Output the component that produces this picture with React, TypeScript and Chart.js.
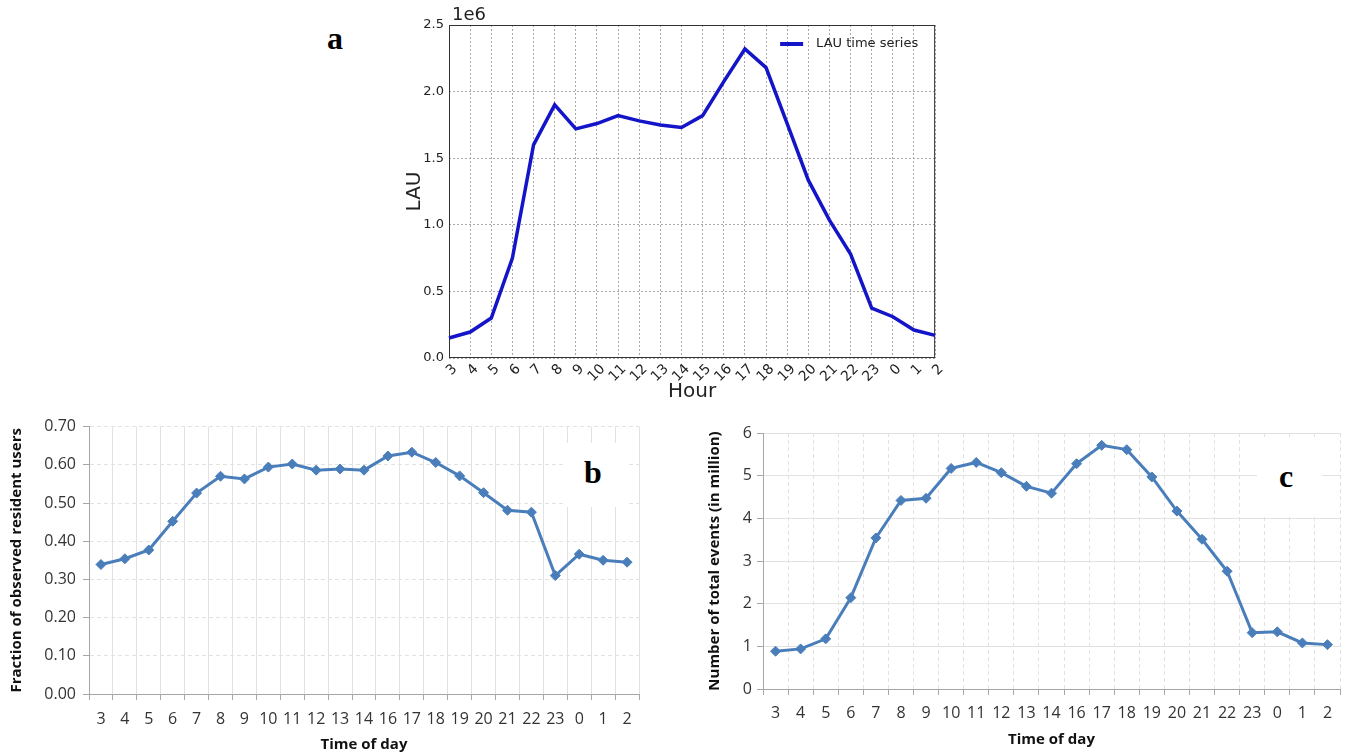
import React, { useEffect, useRef } from 'react';
import { Chart, registerables } from 'chart.js';

Chart.register(...registerables);

// ---------- data ----------
const hoursA = ['3', '4', '5', '6', '7', '8', '9', '10', '11', '12', '13', '14', '15', '16', '17', '18', '19', '20', '21', '22', '23', '0', '1', '2'];
const lauValues = [150000, 195000, 300000, 750000, 1600000, 1900000, 1720000, 1760000, 1820000, 1780000, 1750000, 1730000, 1820000, 2075000, 2320000, 2180000, 1760000, 1335000, 1035000, 780000, 375000, 310000, 210000, 170000];

const hoursBC = ['3', '4', '5', '6', '7', '8', '9', '10', '11', '12', '13', '14', '16', '17', '18', '19', '20', '21', '22', '23', '0', '1', '2'];
const residentFraction = [0.339, 0.354, 0.377, 0.452, 0.526, 0.570, 0.563, 0.594, 0.602, 0.586, 0.589, 0.586, 0.623, 0.633, 0.606, 0.571, 0.527, 0.481, 0.476, 0.310, 0.366, 0.350, 0.345];
const totalEvents = [0.885, 0.94, 1.175, 2.14, 3.54, 4.42, 4.47, 5.17, 5.31, 5.07, 4.75, 4.59, 5.28, 5.71, 5.61, 4.97, 4.17, 3.51, 2.76, 1.32, 1.34, 1.08, 1.04];

const MPL_FONT = 'DejaVu Sans';
const XL_FONT = 'Open Sans';
const XL_BLUE = '#4A7EBB';
const LAU_BLUE = '#1414c8';

const framePlugin = {
  id: 'frame',
  beforeDatasetsDraw(chart: any) {
    const { ctx, chartArea } = chart;
    ctx.save();
    ctx.strokeStyle = '#333';
    ctx.lineWidth = 1;
    ctx.strokeRect(chartArea.left + 0.5, chartArea.top + 0.5, chartArea.right - chartArea.left - 1, chartArea.bottom - chartArea.top - 1);
    ctx.restore();
  },
};

// legend drawn inside the plot, top-right (matplotlib style)
const insideLegendPlugin = {
  id: 'insideLegend',
  afterDatasetsDraw(chart: any) {
    const { ctx, chartArea } = chart;
    const ds = chart.data.datasets[0];
    const x0 = chartArea.right - 155;
    const y = chartArea.top + 19;
    ctx.save();
    ctx.strokeStyle = ds.borderColor;
    ctx.lineWidth = 4;
    ctx.beginPath();
    ctx.moveTo(x0, y);
    ctx.lineTo(x0 + 23, y);
    ctx.stroke();
    ctx.fillStyle = '#222';
    ctx.font = `13px "${MPL_FONT}"`;
    ctx.textBaseline = 'middle';
    ctx.textAlign = 'left';
    ctx.fillText(ds.label, x0 + 36, y);
    ctx.restore();
  },
};

function makeConfigA(): any {
  return {
    type: 'line',
    data: {
      labels: hoursA,
      datasets: [
        {
          label: 'LAU time series',
          data: lauValues,
          borderColor: LAU_BLUE,
          backgroundColor: LAU_BLUE,
          borderWidth: 3.5,
          pointRadius: 0,
          tension: 0,
        },
      ],
    },
    options: {
      animation: false,
      responsive: false,
      layout: { padding: { top: 25, right: 13, left: 0, bottom: 0 } },
      plugins: {
        tooltip: { enabled: false },
        legend: { display: false },
      },
      scales: {
        x: {
          type: 'category',
          offset: false,
          grid: { color: '#a8a8a8', drawTicks: false, offset: false },
          border: { display: false, dash: [2, 2] },
          ticks: {
            autoSkip: false,
            minRotation: 45,
            maxRotation: 45,
            padding: 3,
            labelOffset: 6,
            color: '#222',
            font: { family: MPL_FONT, size: 14 },
          },
          title: {
            display: true,
            text: 'Hour',
            color: '#222',
            font: { family: MPL_FONT, size: 20 },
            padding: { top: 0, bottom: 6 },
          },
          afterFit(scale: any) {
            scale.height = 52;
          },
        },
        y: {
          min: 0,
          max: 2500000,
          grid: { color: '#a8a8a8', drawTicks: false },
          border: { display: false, dash: [2, 2] },
          ticks: {
            stepSize: 500000,
            padding: 5,
            color: '#222',
            font: { family: MPL_FONT, size: 13 },
            callback: (v: any) => (Number(v) / 1e6).toFixed(1),
          },
          title: {
            display: true,
            text: 'LAU',
            color: '#222',
            font: { family: MPL_FONT, size: 20 },
            padding: { top: 23, bottom: 0 },
          },
          afterFit(scale: any) {
            scale.width = 69;
          },
        },
      },
    },
    plugins: [framePlugin, insideLegendPlugin],
  };
}

function makeExcelConfig(
  labels: string[],
  values: number[],
  yMax: number,
  yStep: number,
  decimals: number,
  yTitle: string,
  dims: { padTop: number; padRight: number; yWidth: number; xHeight: number; yTitlePad: number; yTickPad: number; xTickPad: number; xTitlePad: number },
  verticalDashed: boolean
): any {
  return {
    type: 'line',
    data: {
      labels,
      datasets: [
        {
          data: values,
          borderColor: XL_BLUE,
          backgroundColor: XL_BLUE,
          borderWidth: 3,
          pointStyle: 'rectRot',
          pointRadius: 5,
          pointBorderWidth: 1,
          tension: 0,
        },
      ],
    },
    options: {
      animation: false,
      responsive: false,
      layout: { padding: { top: dims.padTop, right: dims.padRight, left: 0, bottom: 0 } },
      plugins: { legend: { display: false }, tooltip: { enabled: false } },
      scales: {
        x: {
          type: 'category',
          offset: true,
          grid: { offset: true, color: '#e2e2e2', tickColor: '#a6a6a6', tickLength: 6 },
          border: { color: '#a6a6a6', width: 1, dash: verticalDashed ? [4, 3] : [] },
          ticks: {
            autoSkip: false,
            maxRotation: 0,
            padding: dims.xTickPad,
            color: '#333',
            font: { family: XL_FONT, size: 16 },
          },
          title: {
            display: true,
            text: 'Time of day',
            color: '#111',
            font: { family: XL_FONT, size: 15, weight: 'bold' },
            padding: { top: 0, bottom: dims.xTitlePad },
          },
          afterFit(scale: any) {
            scale.height = dims.xHeight;
          },
        },
        y: {
          min: 0,
          max: yMax,
          grid: { color: '#e2e2e2', tickColor: '#a6a6a6', tickLength: 6 },
          border: { color: '#a6a6a6', width: 1, dash: verticalDashed ? [] : [4, 3] },
          ticks: {
            stepSize: yStep,
            padding: dims.yTickPad,
            color: '#333',
            font: { family: XL_FONT, size: 16 },
            callback: (v: any) => Number(v).toFixed(decimals),
          },
          title: {
            display: true,
            text: yTitle,
            color: '#111',
            font: { family: XL_FONT, size: 15, weight: 'bold' },
            padding: { top: dims.yTitlePad, bottom: 0 },
          },
          afterFit(scale: any) {
            scale.width = dims.yWidth;
          },
        },
      },
    },
  };
}

function ChartCanvas(props: { left: number; top: number; width: number; height: number; makeConfig: () => any }) {
  const ref = useRef<HTMLCanvasElement | null>(null);
  useEffect(() => {
    if (!ref.current) return;
    const chart = new Chart(ref.current, props.makeConfig());
    return () => chart.destroy();
  }, []);
  return (
    <canvas
      ref={ref}
      width={props.width}
      height={props.height}
      style={{ position: 'absolute', left: props.left, top: props.top, width: props.width, height: props.height }}
    />
  );
}

const letterStyle: React.CSSProperties = {
  position: 'absolute',
  fontFamily: '"Liberation Serif", "Times New Roman", serif',
  fontWeight: 'bold',
  fontSize: 32,
  lineHeight: '32px',
  color: '#000',
};

export default function App() {
  return (
    <div style={{ position: 'fixed', left: 0, top: 0, width: 1347, height: 755, background: '#fff', overflow: 'hidden' }}>
      <ChartCanvas left={380} top={0} width={570} height={410} makeConfig={makeConfigA} />
      <ChartCanvas
        left={0}
        top={410}
        width={660}
        height={345}
        makeConfig={() =>
          makeExcelConfig(hoursBC, residentFraction, 0.7, 0.1, 2, 'Fraction of observed resident users',
            { padTop: 16, padRight: 21, yWidth: 89, xHeight: 61, yTitlePad: 8, yTickPad: 7, xTickPad: 10, xTitlePad: 1 }, false)
        }
      />
      <ChartCanvas
        left={690}
        top={410}
        width={657}
        height={345}
        makeConfig={() =>
          makeExcelConfig(hoursBC, totalEvents, 6, 1, 0, 'Number of total events (in million)',
            { padTop: 23, padRight: 7, yWidth: 73, xHeight: 66, yTitlePad: 16, yTickPad: 5, xTickPad: 9, xTitlePad: 6 }, true)
        }
      />
      <div style={{ ...letterStyle, left: 327, top: 22 }}>a</div>
      <div style={{ position: 'absolute', left: 563, top: 443, width: 64, height: 64, background: '#fff' }} />
      <div style={{ ...letterStyle, left: 584, top: 456 }}>b</div>
      <div style={{ position: 'absolute', left: 1257, top: 440, width: 65, height: 75, background: '#fff' }} />
      <div style={{ ...letterStyle, left: 1279, top: 460 }}>c</div>
      <div style={{ position: 'absolute', left: 452, top: 3, fontFamily: MPL_FONT, fontSize: 18, lineHeight: '22px', color: '#222' }}>1e6</div>
    </div>
  );
}
